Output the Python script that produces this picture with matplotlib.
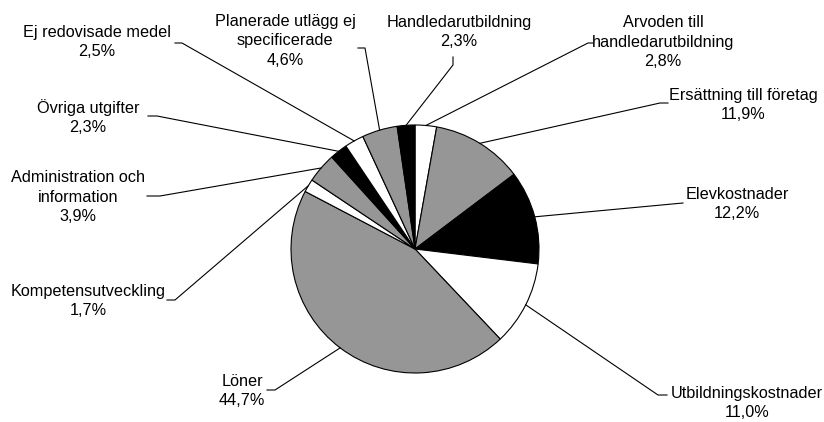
import numpy as np
import matplotlib.pyplot as plt

plt.rcParams['font.family'] = ['Liberation Sans', 'DejaVu Sans']

# Andelar (procent), medurs fran kl 12
labels = ['Arvoden till\nhandledarutbildning', 'Ersättning till företag', 'Elevkostnader',
          'Utbildningskostnader', 'Löner', 'Kompetensutveckling',
          'Administration och\ninformation', 'Övriga utgifter', 'Ej redovisade medel',
          'Planerade utlägg ej\nspecificerade', 'Handledarutbildning']
values = [2.8, 11.9, 12.2, 11.0, 44.7, 1.7, 3.9, 2.3, 2.5, 4.6, 2.3]
colors = ['white', '#969696', 'black', 'white', '#969696', 'white',
          '#969696', 'black', 'white', '#969696', 'black']

W, H = 824, 422
# textposition (bildkoordinater, y nedat)
text_pos = [(663, 42), (743, 105), (737, 204), (747, 403), (242, 391), (88, 301),
            (78, 197), (88, 117), (97, 42), (285, 41), (459, 32)]
# knick och slutpunkt for hanvisningslinjer
elbow = [(588, 43), (660, 103), (683, 203), (658, 395), (275, 390), (175, 300),
         (160, 196), (157, 116), (182, 43), (365, 48), (453, 65)]
end = [(593, 43), (668, 103), (683, 203), (667, 395), (267, 390), (167, 300),
       (147, 196), (148, 116), (175, 43), (358, 48), (453, 57)]

cx, cy, r = 415, H - 249, 124

fig = plt.figure(figsize=(W / 100, H / 100), dpi=100)
ax = fig.add_axes([0, 0, 1, 1])
wedges, _ = ax.pie(values, colors=colors, startangle=90, counterclock=False,
                   center=(cx, cy), radius=r,
                   wedgeprops=dict(edgecolor='black', linewidth=0.8))
ax.set_xlim(0, W)
ax.set_ylim(0, H)
ax.set_aspect('equal')
ax.axis('off')

for i, w in enumerate(wedges):
    th = np.deg2rad((w.theta1 + w.theta2) / 2)
    x0 = cx + r * np.cos(th)
    y0 = cy + r * np.sin(th)
    ex, ey = elbow[i]
    fx, fy = end[i]
    ax.plot([x0, ex, fx], [y0, H - ey, H - fy], color='black', lw=0.8)
    pct = f"{values[i]:.1f}".replace('.', ',') + '%'
    tx, ty = text_pos[i]
    ax.text(tx, H - ty, labels[i] + '\n' + pct, ha='center', va='center',
            multialignment='center', fontsize=11.7, linespacing=1.4)

fig.savefig('out.png', dpi=100)
